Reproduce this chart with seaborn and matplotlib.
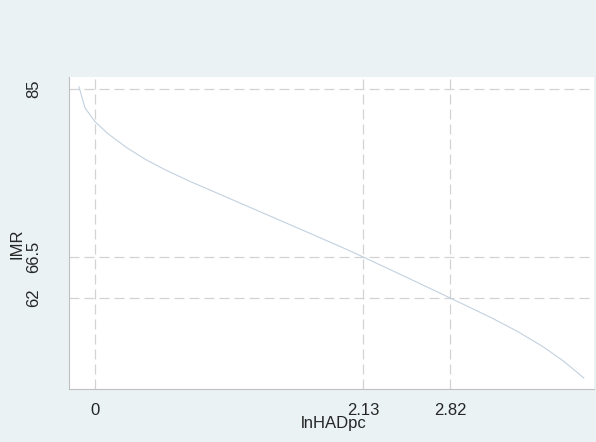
import matplotlib
matplotlib.use("Agg")
import matplotlib.pyplot as plt
import seaborn as sns
import pandas as pd

# values
lnhadpc = [-0.127, -0.079, 0.0, 0.1, 0.25, 0.4, 0.55, 0.75, 1.0, 1.25, 1.5,
           1.75, 2.0, 2.13, 2.5, 2.82, 3.15, 3.35, 3.55, 3.72, 3.88]
imr = [85.25, 82.9, 81.4, 80.1, 78.55, 77.25, 76.15, 74.85, 73.35, 71.85,
       70.35, 68.85, 67.33, 66.5, 64.1, 62.0, 59.8, 58.35, 56.7, 55.05, 53.2]
x_ticks = [0, 2.13, 2.82]
x_tick_labels = ["0", "2.13", "2.82"]
y_ticks = [62, 66.5, 85]
y_tick_labels = ["62", "66.5", "85"]

df = pd.DataFrame({"lnHADpc": lnhadpc, "IMR": imr})

sns.set_style("white")
plt.rcParams["font.family"] = ["Liberation Sans", "DejaVu Sans"]

bg = "#EAF2F3"
fig = plt.figure(figsize=(5.96, 4.42), dpi=100, facecolor=bg)
ax = fig.add_axes([69 / 596, 1 - 389 / 442, 525 / 596, 312 / 442])
ax.set_facecolor("white")

sns.lineplot(data=df, x="lnHADpc", y="IMR", ax=ax, color="#C3D1DF",
             linewidth=0.8)

ax.set_xlim(-0.206, 3.96)
ax.set_ylim(52.0, 86.3)

ax.set_xticks(x_ticks)
ax.set_xticklabels(x_tick_labels)
ax.set_yticks(y_ticks)
ax.set_yticklabels(y_tick_labels, rotation=90, va="center")

ax.grid(True, color="#D3D3D3", linestyle=(0, (8, 4)), linewidth=0.9)
ax.tick_params(axis="both", length=5, width=0.8, color="#C8C8C8",
               labelsize=12, direction="out")
ax.tick_params(axis="y", pad=15)
ax.tick_params(axis="x", pad=5)

for side in ["top", "right"]:
    ax.spines[side].set_visible(False)
for side in ["left", "bottom"]:
    ax.spines[side].set_color("#C0C0C0")
    ax.spines[side].set_linewidth(0.8)

ax.set_xlabel("lnHADpc", fontsize=12)
ax.set_ylabel("IMR", fontsize=12)
ax.xaxis.set_label_coords(0.505, -0.088)
ax.yaxis.set_label_coords(-0.084, 0.465)

fig.savefig("out.png", dpi=100, facecolor=bg)
